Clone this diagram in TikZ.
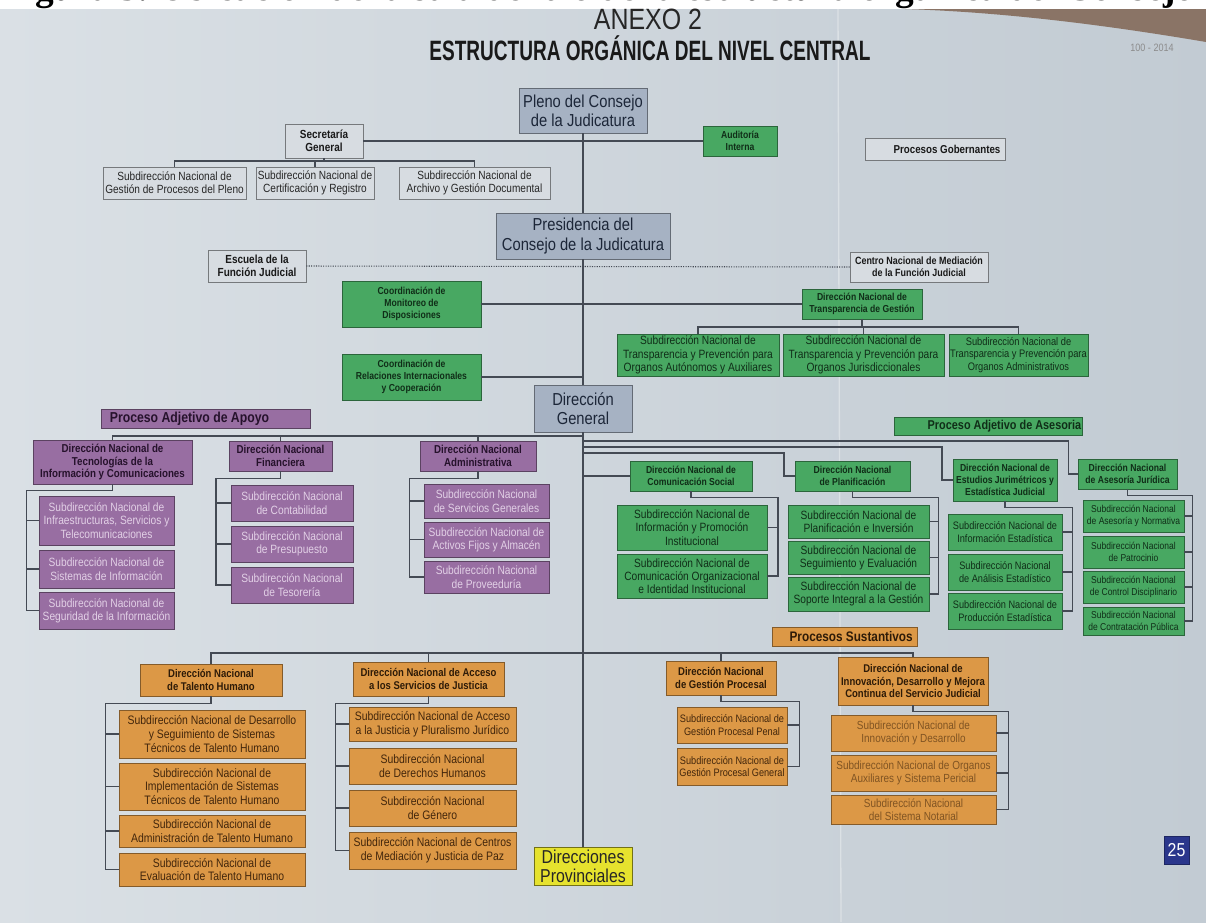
\documentclass[tikz,border=0pt]{standalone}
\usepackage{fontspec}
\setmainfont{Liberation Sans}[FakeStretch=0.85]
\newfontfamily\titlefont{Liberation Sans}[FakeStretch=0.68]
\newfontfamily\capfont{Liberation Serif}
\usetikzlibrary{calc}
\definecolor{bgA}{RGB}{218,224,229}
\definecolor{bgB}{RGB}{194,203,211}
\definecolor{gb}{RGB}{166,178,195}
\definecolor{gbtext}{RGB}{28,38,56}
\definecolor{lg}{RGB}{215,220,225}
\definecolor{gr}{RGB}{72,168,98}
\definecolor{grtext}{RGB}{16,46,24}
\definecolor{pu}{RGB}{152,110,162}
\definecolor{putext}{RGB}{226,208,230}
\definecolor{pudark}{RGB}{38,18,44}
\definecolor{orng}{RGB}{220,152,70}
\definecolor{ortext}{RGB}{66,38,12}
\definecolor{ye}{RGB}{230,226,46}
\definecolor{pgblue}{RGB}{42,54,140}
\definecolor{ln}{RGB}{68,74,84}
\definecolor{wood}{RGB}{138,116,102}
\newcommand\bx[7]{\node[#2, minimum width={(#5-#3)*0.75pt}, minimum height={(#6-#4)*0.75pt}] (#1) at ({(#3+#5)/2},{(#4+#6)/2}) {#7};}
\tikzset{
 bxbase/.style={inner sep=1pt, align=center, line width=0.5pt},
 bigbox/.style={bxbase, fill=gb, draw=gb!60!black, text=gbtext, font=\fontsize{13}{14.5}\selectfont},
 lgbox/.style={bxbase, fill=lg, draw=lg!55!black, text=black!85, font=\fontsize{8.9}{10}\selectfont},
 lgbold/.style={bxbase, fill=lg, draw=lg!55!black, text=black!90, font=\bfseries\fontsize{8.8}{9.6}\selectfont},
 grdn/.style={bxbase, fill=gr, draw=gr!60!black, text=grtext, font=\bfseries\fontsize{7.6}{9}\selectfont},
 grsub/.style={bxbase, fill=gr, draw=gr!60!black, text=grtext, font=\fontsize{9}{10}\selectfont},
 pudn/.style={bxbase, fill=pu, draw=pu!60!black, text=pudark, font=\bfseries\fontsize{8.6}{9.6}\selectfont},
 pusub/.style={bxbase, fill=pu, draw=pu!60!black, text=putext, font=\fontsize{9}{10}\selectfont},
 ordn/.style={bxbase, fill=orng, draw=orng!60!black, text=ortext!70!black, font=\bfseries\fontsize{8.4}{9.4}\selectfont},
 orsub/.style={bxbase, fill=orng, draw=orng!60!black, text=ortext, font=\fontsize{9.2}{10.2}\selectfont},
 yebox/.style={bxbase, fill=ye, draw=ye!50!black, text=black!85, font=\fontsize{14}{14.5}\selectfont},
 conn/.style={draw=ln, line width=0.8pt},
 dotconn/.style={draw=ln, line width=0.8pt, densely dotted},
}
\begin{document}
\begin{tikzpicture}[x=0.75pt,y=-0.75pt]
\useasboundingbox (0,0) rectangle (1206,922);
\clip (0,0) rectangle (1206,922);
% page background
\shade[left color=bgA, right color=bgB] (0,9) rectangle (1206,922);
\fill[white] (0,0) rectangle (1206,9);
\fill[wood] (905,9) -- (1206,9) -- (1206,42) .. controls (1100,24) and (1000,12) .. (905,9) -- cycle;
\draw[white, opacity=0.35, line width=1pt] (838,9) -- (841,922);
% caption (cut at top)
\begin{scope}
\clip (0,0) rectangle (1206,9);
\node[anchor=base west, inner sep=0, font=\capfont\bfseries\fontsize{28}{28}\selectfont] (cap) at (2,0) {Figura 3. Ubicación de la sala dentro de la estructura orgánica del Consejo};
\end{scope}
% titles
\node[font=\fontsize{22}{22}\selectfont, text=black!85] (anexo) at (648,19) {ANEXO 2};
\node[font=\titlefont\bfseries\fontsize{21}{21}\selectfont, text=black!90] (titulo) at (650,48) {ESTRUCTURA ORGÁNICA DEL NIVEL CENTRAL};
\node[text=black!45, font=\fontsize{8}{8}\selectfont] (yr) at (1152,48) {100 - 2014};

% gobernantes
\bx{pleno}{bigbox}{519}{88}{647}{133}{Pleno del Consejo\\de la Judicatura}
\bx{sec}{lgbold}{285}{124}{363}{158}{Secretaría\\General}
\bx{aud}{grdn}{703}{126}{777}{156}{Auditoría\\Interna}
\bx{s1}{lgbox}{103}{167}{246}{199}{Subdirección Nacional de\\Gestión de Procesos del Pleno}
\bx{s2}{lgbox}{256}{167}{374}{199}{Subdirección Nacional de\\Certificación y Registro}
\bx{s3}{lgbox}{399}{167}{550}{199}{Subdirección Nacional de\\Archivo y Gestión Documental}
\bx{gob}{lgbold}{865}{138}{1005}{160}{\hspace*{18pt}\fontsize{8.6}{9}\selectfont Procesos Gobernantes}
\bx{presid}{bigbox}{496}{213}{670}{259}{Presidencia del\\Consejo de la Judicatura}
\bx{esc}{lgbold}{208}{250}{306}{282}{Escuela de la\\Función Judicial}
\bx{cen}{lgbold, font=\bfseries\fontsize{7.9}{9}\selectfont}{850}{252}{988}{282}{Centro Nacional de Mediación\\de la Función Judicial}
\bx{mon}{grdn}{342}{281}{481}{327}{Coordinación de\\Monitoreo de\\Disposiciones}
\bx{tra}{grdn}{802}{289}{922}{319}{Dirección Nacional de\\Transparencia de Gestión}
\bx{t1}{grsub}{617}{334}{779}{376}{Subdirección Nacional de\\Transparencia y Prevención para\\Organos Autónomos y Auxiliares}
\bx{t2}{grsub}{783}{334}{944}{376}{Subdirección Nacional de\\Transparencia y Prevención para\\Organos Jurisdiccionales}
\bx{t3}{grsub, font=\fontsize{8.2}{9.6}\selectfont}{949}{334}{1088}{376}{Subdirección Nacional de\\Transparencia y Prevención para\\Organos Administrativos}
\bx{rel}{grdn}{342}{354}{481}{400}{Coordinación de\\Relaciones Internacionales\\y Cooperación}
\bx{dg}{bigbox}{534}{385}{632}{432}{Dirección\\General}

% apoyo
\bx{apoyo}{pudn}{101}{409}{310}{428}{\fontsize{10.8}{11}\selectfont Proceso Adjetivo de Apoyo\hspace*{24pt}}
\bx{tic}{pudn}{33}{440}{192}{484}{Dirección Nacional de\\Tecnologías de la\\Información y Comunicaciones}
\bx{fin}{pudn}{229}{441}{332}{471}{Dirección Nacional\\Financiera}
\bx{adm}{pudn}{420}{441}{536}{471}{Dirección Nacional\\Administrativa}
\bx{tic1}{pusub}{39}{496}{174}{545}{Subdirección Nacional de\\Infraestructuras, Servicios y\\Telecomunicaciones}
\bx{tic2}{pusub}{39}{550}{174}{588}{Subdirección Nacional de\\Sistemas de Información}
\bx{tic3}{pusub}{39}{592}{174}{629}{Subdirección Nacional de\\Seguridad de la Información}
\bx{fin1}{pusub}{231}{485}{353}{521}{Subdirección Nacional\\de Contabilidad}
\bx{fin2}{pusub}{231}{526}{353}{562}{Subdirección Nacional\\de Presupuesto}
\bx{fin3}{pusub}{231}{567}{353}{603}{Subdirección Nacional\\de Tesorería}
\bx{adm1}{pusub}{424}{484}{549}{518}{Subdirección Nacional\\de Servicios Generales}
\bx{adm2}{pusub}{424}{522}{549}{557}{Subdirección Nacional de\\Activos Fijos y Almacén}
\bx{adm3}{pusub}{424}{561}{549}{593}{Subdirección Nacional\\de Proveeduría}

% asesoria
\bx{ases}{grdn}{900}{417}{1077}{435}{\hspace*{24pt}\fontsize{9.6}{10}\selectfont Proceso Adjetivo de Asesoria}
\bx{com}{grdn}{630}{461}{752}{491}{Dirección Nacional de\\Comunicación Social}
\bx{pla}{grdn}{795}{461}{910}{491}{Dirección Nacional\\de Planificación}
\bx{est}{grdn}{953}{459}{1057}{501}{Dirección Nacional de\\Estudios Jurimétricos y\\Estadística Judicial}
\bx{asj}{grdn}{1078}{459}{1177}{489}{Dirección Nacional\\de Asesoría Jurídica}
\bx{com1}{grsub}{617}{505}{767}{550}{Subdirección Nacional de\\Información y Promoción\\Institucional}
\bx{com2}{grsub}{617}{554}{767}{598}{Subdirección Nacional de\\Comunicación Organizacional\\e Identidad Institucional}
\bx{pla1}{grsub}{788}{505}{929}{538}{Subdirección Nacional de\\Planificación e Inversión}
\bx{pla2}{grsub}{788}{541}{929}{574}{Subdirección Nacional de\\Seguimiento y Evaluación}
\bx{pla3}{grsub}{788}{577}{929}{611}{Subdirección Nacional de\\Soporte Integral a la Gestión}
\bx{est1}{grsub, font=\fontsize{8.1}{9.2}\selectfont}{948}{514}{1062}{550}{Subdirección Nacional de\\Información Estadística}
\bx{est2}{grsub, font=\fontsize{8.1}{9.2}\selectfont}{948}{554}{1062}{590}{Subdirección Nacional\\de Análisis Estadístico}
\bx{est3}{grsub, font=\fontsize{8.1}{9.2}\selectfont}{948}{593}{1062}{629}{Subdirección Nacional de\\Producción Estadística}
\bx{asj1}{grsub, font=\fontsize{7.5}{8.6}\selectfont}{1083}{500}{1184}{532}{Subdirección Nacional\\de Asesoría y Normativa}
\bx{asj2}{grsub, font=\fontsize{7.5}{8.6}\selectfont}{1083}{536}{1184}{568}{Subdirección Nacional\\de Patrocinio}
\bx{asj3}{grsub, font=\fontsize{7.5}{8.6}\selectfont}{1083}{571}{1184}{603}{Subdirección Nacional\\de Control Disciplinario}
\bx{asj4}{grsub, font=\fontsize{7.5}{8.6}\selectfont}{1083}{607}{1184}{635}{Subdirección Nacional\\de Contratación Pública}

% sustantivos
\bx{sust}{ordn}{772}{627}{917}{646}{\hspace*{10pt}\fontsize{10.4}{11}\selectfont Procesos Sustantivos}
\bx{tal}{ordn}{140}{664}{282}{696}{Dirección Nacional\\de Talento Humano}
\bx{acc}{ordn}{353}{662}{504}{696}{Dirección Nacional de Acceso\\a los Servicios de Justicia}
\bx{gp}{ordn}{666}{661}{776}{695}{Dirección Nacional\\de Gestión Procesal}
\bx{inn}{ordn}{838}{657}{988}{705}{Dirección Nacional de\\Innovación, Desarrollo y Mejora\\Continua del Servicio Judicial}
\bx{tal1}{orsub}{119}{710}{305}{758}{Subdirección Nacional de Desarrollo\\y Seguimiento de Sistemas\\Técnicos de Talento Humano}
\bx{tal2}{orsub}{119}{763}{305}{810}{Subdirección Nacional de\\Implementación de Sistemas\\Técnicos de Talento Humano}
\bx{tal3}{orsub}{119}{815}{305}{847}{Subdirección Nacional de\\Administración de Talento Humano}
\bx{tal4}{orsub}{119}{853}{305}{886}{Subdirección Nacional de\\Evaluación de Talento Humano}
\bx{acc1}{orsub}{349}{707}{516}{741}{Subdirección Nacional de Acceso\\a la Justicia y Pluralismo Jurídico}
\bx{acc2}{orsub}{349}{748}{516}{784}{Subdirección Nacional\\de Derechos Humanos}
\bx{acc3}{orsub}{349}{790}{516}{826}{Subdirección Nacional\\de Género}
\bx{acc4}{orsub}{349}{832}{516}{869}{Subdirección Nacional de Centros\\de Mediación y Justicia de Paz}
\bx{gp1}{orsub, font=\fontsize{8.1}{9.4}\selectfont}{677}{707}{787}{743}{Subdirección Nacional de\\Gestión Procesal Penal}
\bx{gp2}{orsub, font=\fontsize{8.1}{9.4}\selectfont}{677}{748}{787}{785}{Subdirección Nacional de\\Gestión Procesal General}
\bx{inn1}{orsub, text=ortext!60!orng, font=\fontsize{8.8}{9.6}\selectfont}{831}{715}{996}{751}{Subdirección Nacional de\\Innovación y Desarrollo}
\bx{inn2}{orsub, text=ortext!60!orng, font=\fontsize{8.8}{9.6}\selectfont}{831}{755}{996}{791}{Subdirección Nacional de Organos\\Auxiliares y Sistema Pericial}
\bx{inn3}{orsub, text=ortext!60!orng, font=\fontsize{8.8}{9.6}\selectfont}{831}{795}{996}{824}{Subdirección Nacional\\del Sistema Notarial}
\bx{prov}{yebox}{534}{847}{632}{885}{Direcciones\\Provinciales}
\bx{pg}{bxbase, fill=pgblue, draw=pgblue!70!black, text=white, font=\fontsize{14}{14}\selectfont}{1164}{836}{1189}{864}{25}

% ---------- connectors ----------
\draw[conn] (pleno.south) -- (presid.north);
\draw[conn] (presid.south) -- (dg.north);
\draw[conn] (dg.south) -- (prov.north);
\draw[conn] (sec.east) -- (aud.west);
\draw[conn] (sec.south) -- (sec.south |- 0,161);
\draw[conn] (s1.north) -- (s1.north |- 0,161) -- (s3.north |- 0,161) -- (s3.north);
\draw[conn] (s2.north) -- (s2.north |- 0,161);
\draw[dotconn] (esc.east) -- (cen.west);
\draw[conn] (mon.east) -- (tra.west);
\draw[conn] (tra.south) -- (tra.south |- 0,327);
\draw[conn] (t1.north) -- (t1.north |- 0,327) -- (t3.north |- 0,327) -- (t3.north);
\draw[conn] (t2.north) -- (t2.north |- 0,327);
\draw[conn] (rel.east) -- (rel.east -| dg.north);
% apoyo
\draw[conn] (dg.south |- 0,436) -| (tic.north);
\draw[conn] (fin.north) -- (fin.north |- 0,436);
\draw[conn] (adm.north) -- (adm.north |- 0,436);
\draw[conn] (tic.south) -- ++(0,6) -| ([xshift=-9pt]tic3.west) -- (tic3.west);
\draw[conn] ([xshift=-9pt]tic1.west) -- (tic1.west);
\draw[conn] ([xshift=-9pt]tic2.west) -- (tic2.west);
\draw[conn] (fin.south) -- ++(0,7) -| ([xshift=-11pt]fin3.west) -- (fin3.west);
\draw[conn] ([xshift=-11pt]fin1.west) -- (fin1.west);
\draw[conn] ([xshift=-11pt]fin2.west) -- (fin2.west);
\draw[conn] (adm.south) -- ++(0,7) -| ([xshift=-10.5pt]adm3.west) -- (adm3.west);
\draw[conn] ([xshift=-10.5pt]adm1.west) -- (adm1.west);
\draw[conn] ([xshift=-10.5pt]adm2.west) -- (adm2.west);
% asesoria
\draw[conn] (dg.south |- 0,441) -| ([xshift=-7pt]asj.west) -- (asj.west);
\draw[conn] (dg.south |- 0,447) -| ([xshift=-8pt]est.west) -- (est.west);
\draw[conn] (dg.south |- 0,453) -| ([xshift=-8pt]pla.west) -- (pla.west);
\draw[conn] (dg.south |- com.west) -- (com.west);
\draw[conn] (com.south) -- ++(0,6) -| ([xshift=8pt]com2.east) -- (com2.east);
\draw[conn] ([xshift=8pt]com1.east) -- (com1.east);
\draw[conn] (pla.south) -- ++(0,6) -| ([xshift=7pt]pla3.east) -- (pla3.east);
\draw[conn] ([xshift=7pt]pla1.east) -- (pla1.east);
\draw[conn] ([xshift=7pt]pla2.east) -- (pla2.east);
\draw[conn] (est.south) -- ++(0,6) -| ([xshift=7.5pt]est3.east) -- (est3.east);
\draw[conn] ([xshift=7.5pt]est1.east) -- (est1.east);
\draw[conn] ([xshift=7.5pt]est2.east) -- (est2.east);
\draw[conn] (asj.south) -- ++(0,6) -| ([xshift=6pt]asj4.east) -- (asj4.east);
\draw[conn] ([xshift=6pt]asj1.east) -- (asj1.east);
\draw[conn] ([xshift=6pt]asj2.east) -- (asj2.east);
\draw[conn] ([xshift=6pt]asj3.east) -- (asj3.east);
% sustantivos
\draw[conn] (tal.north) -- (tal.north |- 0,653) -- (inn.north |- 0,653) -- (inn.north);
\draw[conn] (acc.north) -- (acc.north |- 0,653);
\draw[conn] (gp.north) -- (gp.north |- 0,653);
\draw[conn] (tal.south) -- ++(0,7) -| ([xshift=-10pt]tal4.west) -- (tal4.west);
\draw[conn] ([xshift=-10pt]tal1.west) -- (tal1.west);
\draw[conn] ([xshift=-10pt]tal2.west) -- (tal2.west);
\draw[conn] ([xshift=-10pt]tal3.west) -- (tal3.west);
\draw[conn] (acc.south) -- ++(0,7) -| ([xshift=-10pt]acc4.west) -- (acc4.west);
\draw[conn] ([xshift=-10pt]acc1.west) -- (acc1.west);
\draw[conn] ([xshift=-10pt]acc2.west) -- (acc2.west);
\draw[conn] ([xshift=-10pt]acc3.west) -- (acc3.west);
\draw[conn] (gp.south) -- ++(0,6) -| ([xshift=9pt]gp2.east) -- (gp2.east);
\draw[conn] ([xshift=9pt]gp1.east) -- (gp1.east);
\draw[conn] (inn.south) -- ++(0,6) -| ([xshift=9pt]inn3.east) -- (inn3.east);
\draw[conn] ([xshift=9pt]inn1.east) -- (inn1.east);
\draw[conn] ([xshift=9pt]inn2.east) -- (inn2.east);
\end{tikzpicture}
\end{document}
